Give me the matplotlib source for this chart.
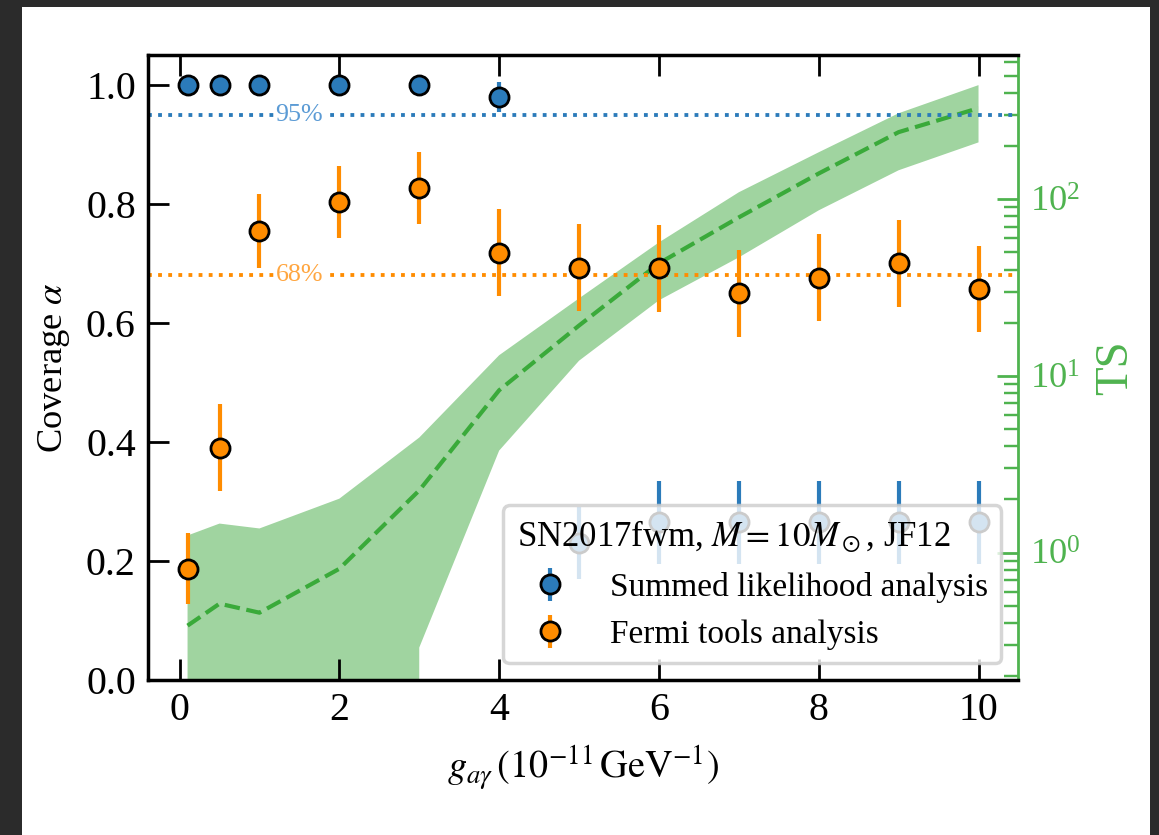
import numpy as np
import matplotlib.pyplot as plt
from matplotlib.patches import Rectangle

plt.rcParams['font.family'] = ['Liberation Serif', 'DejaVu Serif']
plt.rcParams['mathtext.fontset'] = 'stix'

# coupling values (1e-11 GeV^-1)
g_vals = [0.1, 0.5, 1, 2, 3, 4, 5, 6, 7, 8, 9, 10]

# coverage, summed likelihood analysis
cov_sum = [1.0, 1.0, 1.0, 1.0, 1.0, 0.98, 0.23, 0.265, 0.265, 0.265, 0.265, 0.265]
err_sum = [0.0, 0.0, 0.0, 0.0, 0.0, 0.025, 0.06, 0.07, 0.07, 0.07, 0.07, 0.07]

# coverage, Fermi tools analysis
cov_fermi = [0.187, 0.39, 0.755, 0.803, 0.827, 0.718, 0.693, 0.692, 0.65, 0.676, 0.70, 0.657]
err_fermi = [0.06, 0.073, 0.062, 0.06, 0.061, 0.073, 0.073, 0.073, 0.073, 0.073, 0.073, 0.073]

# TS band (right axis)
ts_med = [0.386, 0.514, 0.457, 0.81, 2.25, 8.3, 19.3, 43.4, 79, 140, 240, 328]
ts_lo = [0, 0, 0, 0, 0.29, 3.78, 12.2, 26.8, 46.9, 86.6, 146, 210]
ts_hi = [1.25, 1.46, 1.37, 2.02, 4.48, 13.1, 27.5, 57, 109.6, 184.6, 307, 443]

c_blue = '#2b7bba'
c_orange = '#ff8c00'
c_green = '#2ca02c'
c_green_ax = '#4fb34f'

fig = plt.figure(figsize=(4.636, 3.34), dpi=250)
fig.patch.set_facecolor('#2b2b2b')
fig.add_artist(Rectangle((22 / 1159, 0), (1150 - 22) / 1159, (835 - 7) / 835,
                         transform=fig.transFigure, facecolor='white',
                         edgecolor='none', zorder=-10))

ax = fig.add_axes([0.1277, 0.1856, 0.8784 - 0.1277, 0.934 - 0.1856])
tax = ax.twinx()
ax.set_zorder(tax.get_zorder() + 1)
ax.patch.set_visible(False)

# TS band
tax.fill_between(g_vals, ts_lo, ts_hi, color=c_green, alpha=0.45, lw=0)
tax.plot(g_vals, ts_med, ls='--', color='#3aaa3a', lw=1.2)
tax.set_yscale('log')
tax.set_ylim(0.19, 655)
tax.set_ylabel('TS', color=c_green_ax, fontsize=13.5)
tax.tick_params(axis='y', which='both', direction='in', colors=c_green_ax,
                labelsize=10.5)
tax.tick_params(axis='y', which='major', length=6, width=0.8)
tax.tick_params(axis='y', which='minor', length=4, width=0.7)
tax.spines['right'].set_color(c_green_ax)
for s in ['left', 'top', 'bottom']:
    tax.spines[s].set_visible(False)

# reference lines
ax.axhline(0.95, ls=':', color=c_blue, lw=1.1)
ax.axhline(0.68, ls=':', color=c_orange, lw=1.1)
ax.text(1.5, 0.95, '95%', color='#5b9bd5', fontsize=7.5, ha='center', va='center',
        bbox=dict(facecolor='white', edgecolor='none', pad=0.5))
ax.text(1.5, 0.68, '68%', color='#ffa640', fontsize=7.5, ha='center', va='center',
        bbox=dict(facecolor='white', edgecolor='none', pad=0.5))

ax.errorbar(g_vals, cov_sum, yerr=err_sum, fmt='o', color=c_blue, ecolor=c_blue,
            mec='black', mew=0.8, ms=5.5, elinewidth=1.2, capsize=0,
            label='Summed likelihood analysis')
ax.errorbar(g_vals, cov_fermi, yerr=err_fermi, fmt='o', color=c_orange, ecolor=c_orange,
            mec='black', mew=0.8, ms=5.5, elinewidth=1.2, capsize=0,
            label='Fermi tools analysis')

ax.set_ylim(0, 1.05)
ax.set_xticks([0, 2, 4, 6, 8, 10])
ax.set_yticks([0.0, 0.2, 0.4, 0.6, 0.8, 1.0])
ax.tick_params(axis='both', direction='in', top=True, right=False,
               length=6, width=0.8, labelsize=11.5)
ax.set_xlabel(r'$g_{a\gamma}\,(10^{-11}\,\mathrm{GeV}^{-1})$', fontsize=11)
ax.set_ylabel(r'Coverage $\alpha$', fontsize=10.5)
for s in ax.spines.values():
    s.set_linewidth(1.0)
ax.spines['right'].set_visible(False)

leg = ax.legend(loc='lower right', title=r'SN2017fwm, $M = 10 M_\odot$, JF12',
                fontsize=9.6, title_fontsize=10, framealpha=0.8,
                edgecolor='#cccccc', alignment='left')

fig.savefig('out.png', dpi=250, facecolor=fig.get_facecolor())
